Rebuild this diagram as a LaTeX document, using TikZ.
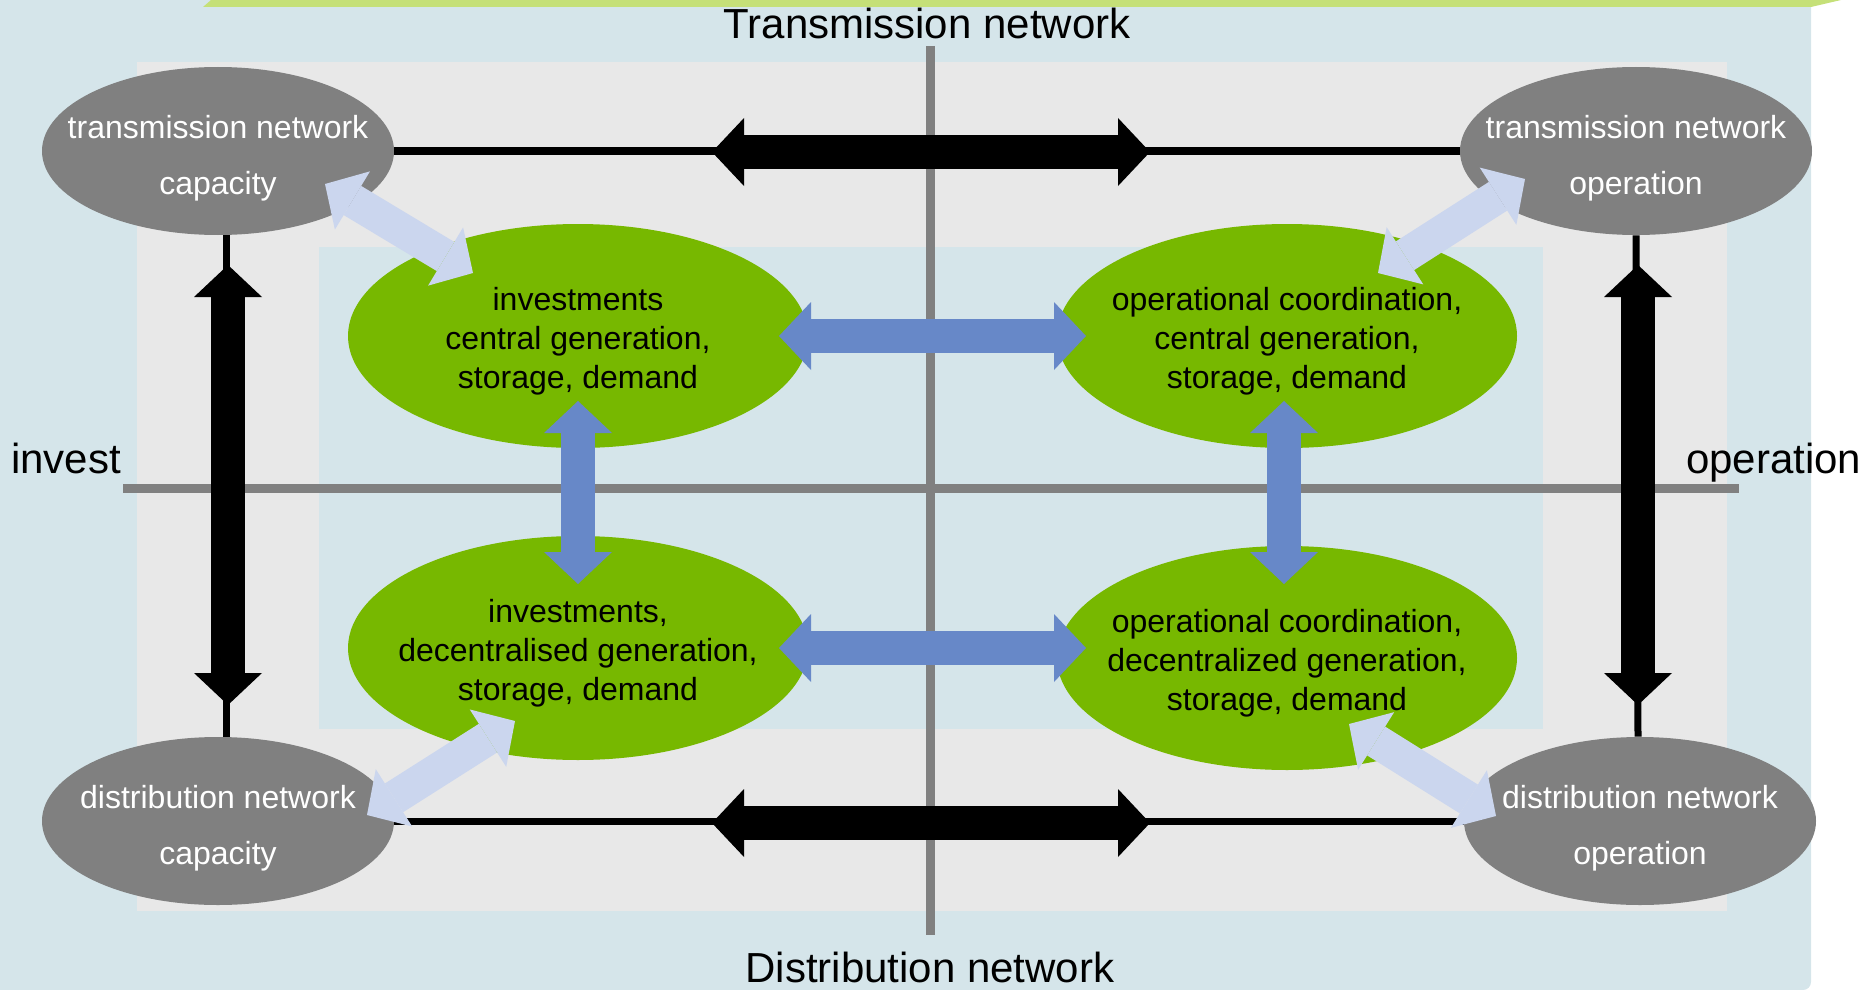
\documentclass[tikz,border=0pt]{standalone}
\usepackage{fontspec}
\setmainfont{Liberation Sans}
\usetikzlibrary{shapes.geometric,arrows.meta}

\definecolor{panelblue}{RGB}{213,229,234}
\definecolor{panelgrey}{RGB}{232,232,232}
\definecolor{barlime}{RGB}{197,224,120}
\definecolor{nodegreen}{RGB}{119,184,0}
\definecolor{nodegrey}{RGB}{128,128,128}
\definecolor{arrowblue}{RGB}{103,136,200}
\definecolor{arrowpale}{RGB}{203,214,238}

\begin{document}
\begin{tikzpicture}[x=0.5pt,y=-0.5pt,
    grey node/.style={ellipse,fill=nodegrey,text=white,inner sep=-20pt,
      minimum width=176pt,minimum height=84pt,align=center,
      font=\fontsize{16}{28}\selectfont,text height=43pt,text depth=0pt},
    green node/.style={ellipse,fill=nodegreen,inner sep=-20pt,
      minimum width=230pt,minimum height=112pt,align=center,
      font=\fontsize{16}{19.3}\selectfont,text height=52pt,text depth=0pt},
    axis label/.style={font=\fontsize{21}{25}\selectfont},
    axis line/.style={draw=nodegrey,line width=4.5pt},
    thin link/.style={draw=black,line width=3.5pt},
    fat arrow/.style={line width=17pt,
      {Triangle[length=16pt,width=34pt,line width=0pt]}-{Triangle[length=16pt,width=34pt,line width=0pt]}}]

  \useasboundingbox (0,0) rectangle (1868,990);

  % panels
  \fill[panelblue] (0,0) -- (1811,0) [rounded corners=4pt] -- (1811,990) [sharp corners] -- (0,990) -- cycle;
  \fill[barlime] (203,7) -- (211,0) -- (1841,0) -- (1811,7) -- cycle;
  \fill[panelgrey] (137,62) rectangle (1727,911);
  \fill[panelblue] (319,247) rectangle (1543,729);

  % axes
  \draw[axis line] (930,46) -- (930,935);
  \draw[axis line] (123,488) -- (1739,488);
  \node[axis label,anchor=base] (trans) at (927,39) {Transmission network};
  \node[axis label,anchor=base] (distr) at (930,982) {Distribution network};
  \node[axis label,anchor=base west] (inv) at (4,473) {invest};
  \node[axis label,anchor=base west] (oper) at (1679,473) {operation};

  % networks
  \node[grey node] (tcap) at (218,151) {transmission network\\capacity};
  \node[grey node] (tope) at (1636,151) {transmission network\\operation};
  \node[grey node] (dcap) at (218,821) {distribution network\\capacity};
  \node[grey node] (dope) at (1640,821) {distribution network\\operation};

  % generation, storage, demand
  \node[green node] (icen) at (578,336) {investments\\central generation,\\storage, demand};
  \node[green node] (ocen) at (1287,336) {operational coordination,\\central generation,\\storage, demand};
  \node[green node] (idec) at (578,648) {investments,\\decentralised generation,\\storage, demand};
  \node[green node] (odec) at (1287,658) {operational coordination,\\decentralized generation,\\storage, demand};

  \path[thin link]
    (tcap) edge (tope)
    (dcap) edge (dope)
    ([xshift=4pt]tcap.south) edge ([xshift=4pt]dcap.north)
    (tope.south) edge ([xshift=-1pt]dope.north);

  % black arrows
  \coordinate (tl) at (712,152);
  \coordinate (tr) at (1150,152);
  \coordinate (bl) at (712,823);
  \coordinate (br) at (1150,823);
  \coordinate (lt) at (228,265);
  \coordinate (lb) at (228,705);
  \coordinate (rt) at (1638,265);
  \coordinate (rb) at (1638,705);
  \draw[fat arrow,black] (tl) -- (tr);
  \draw[fat arrow,black] (bl) -- (br);
  \draw[fat arrow,black] (lt) -- (lb);
  \draw[fat arrow,black] (rt) -- (rb);

  % blue arrows
  \draw[fat arrow,arrowblue] ([xshift=100.5pt]icen.center) -- ([xshift=-100.5pt]ocen.center);
  \draw[fat arrow,arrowblue] ([xshift=100.5pt]idec.center) -- ([xshift=-100.5pt,yshift=5pt]odec.center);
  \draw[fat arrow,arrowblue] ([yshift=-32.5pt]icen.center) -- ([yshift=32pt]idec.center);
  \draw[fat arrow,arrowblue] ([xshift=-1.5pt,yshift=-32.5pt]ocen.center) -- ([xshift=-1.5pt,yshift=37pt]odec.center);

  % pale arrows
  \draw[fat arrow,arrowpale] ([shift={(107,33)}]tcap.center) -- ([shift={(-105,-63)}]icen.center);
  \draw[fat arrow,arrowpale] ([shift={(-111,28)}]tope.center) -- ([shift={(91,-63)}]ocen.center);
  \draw[fat arrow,arrowpale] ([shift={(149,-6)}]dcap.center) -- ([shift={(-63,73)}]idec.center);
  \draw[fat arrow,arrowpale] ([shift={(-144,-5)}]dope.center) -- ([shift={(62,66)}]odec.center);
\end{tikzpicture}
\end{document}
